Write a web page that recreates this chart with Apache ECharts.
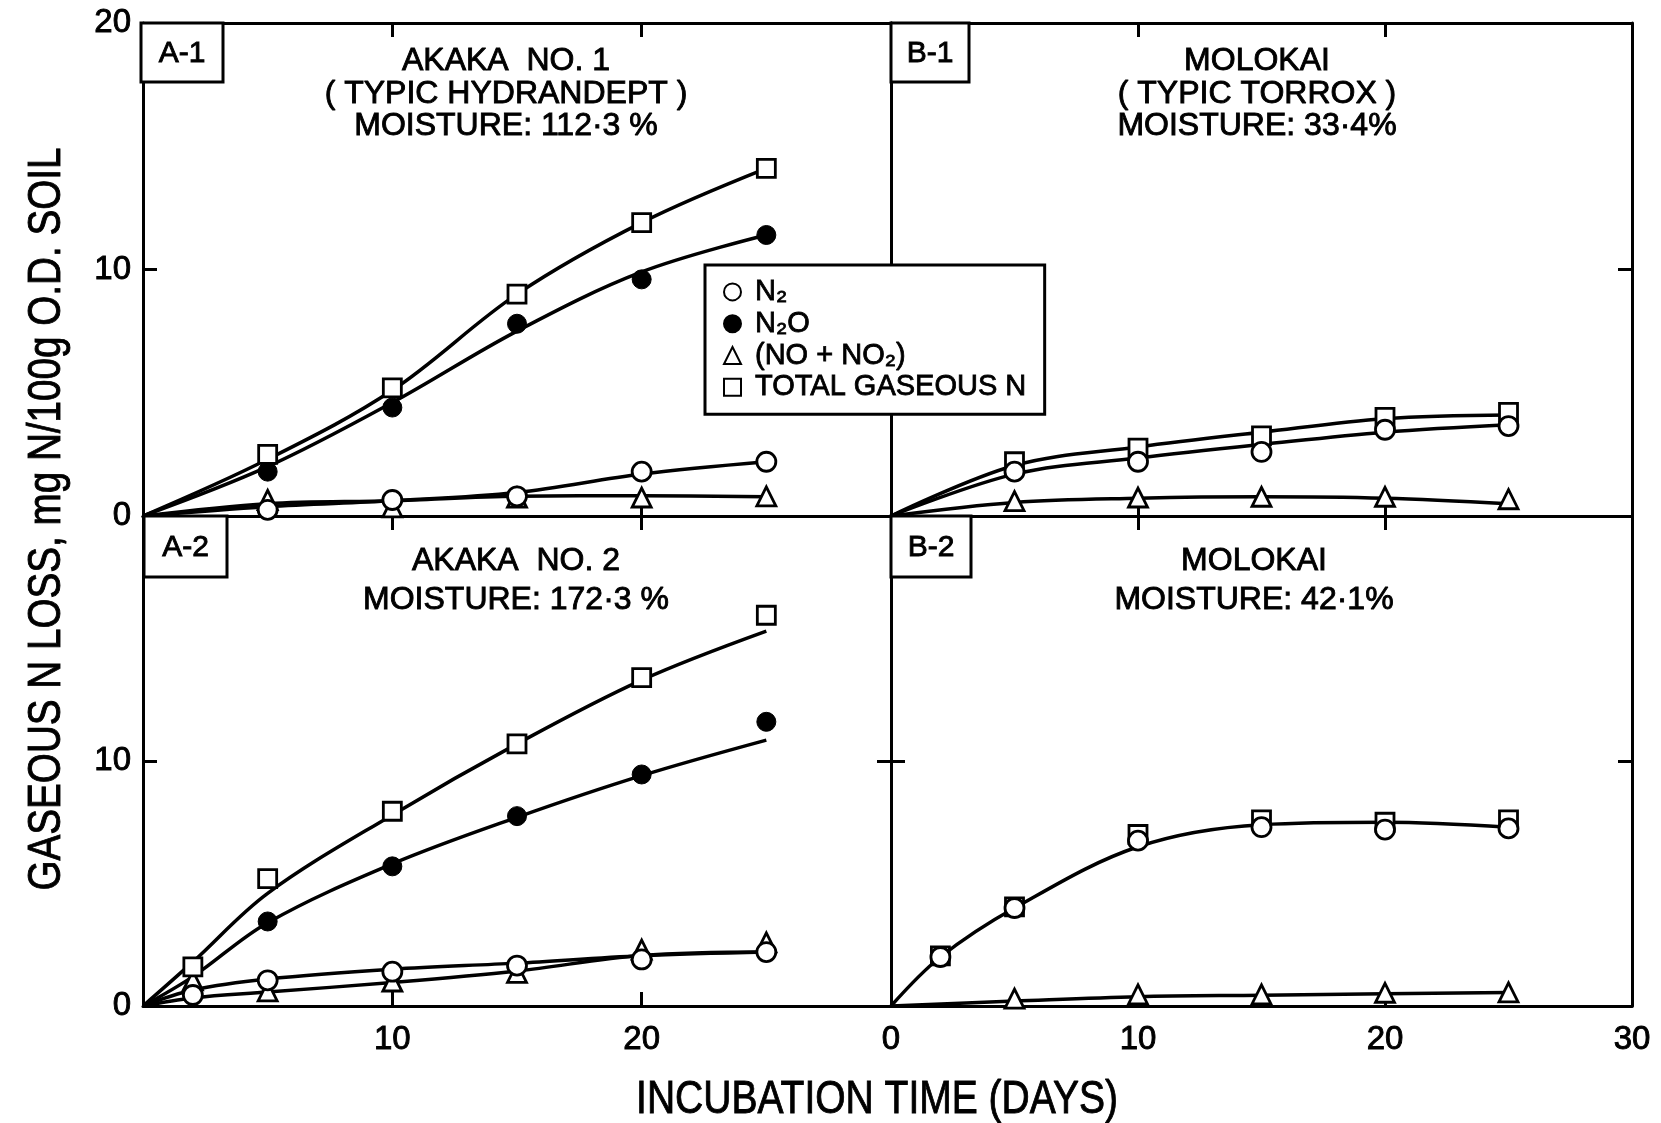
<!DOCTYPE html>
<html>
<head>
<meta charset="utf-8">
<script src="https://cdn.jsdelivr.net/npm/echarts@6/dist/echarts.min.js"></script>
<style>
  html, body { margin: 0; padding: 0; background: #fff; }
  #chart { width: 1661px; height: 1123px; }
</style>
</head>
<body>
<div id="chart"></div>
<script>
// ---------------------------------------------------------------
// Gaseous N loss during incubation, four soils (A-1, B-1, A-2, B-2)
// ---------------------------------------------------------------

// Legend / series names
const seriesNames = ['N₂', 'N₂O', '(NO + NO₂)', 'TOTAL GASEOUS N'];

// Tick labels
const xLabelsLeft = ['', '10', '20', ''];
const xLabelsRight = ['0', '10', '20', '30'];
const yLabelsTop = ['0', '10', '20'];
const yLabelsBottom = ['0', '10', ''];

// A-1  Akaka No. 1 — measured points
const a1Days = [5, 10, 15, 20, 25];
const a1N2 = [0.25, 0.65, 0.8, 1.8, 2.2];
const a1N2O = [1.8, 4.4, 7.8, 9.6, 11.4];
const a1NOx = [0.65, 0.35, 0.75, 0.75, 0.8];
const a1Total = [2.5, 5.2, 9.0, 11.9, 14.1];
// A-1 fitted curves
const a1CurveDays = [0, 5, 10, 15, 20, 25];
const a1N2Curve = [0, 0.38, 0.62, 0.95, 1.7, 2.2];
const a1N2OCurve = [0, 2.0, 4.6, 7.5, 9.9, 11.4];
const a1NOxCurve = [0, 0.5, 0.62, 0.8, 0.82, 0.78];
const a1TotalCurve = [0, 2.3, 5.1, 9.0, 11.9, 14.1];

// B-1  Molokai (33.4 %) — measured points
const b1Days = [5, 10, 15, 20, 25];
const b1N2 = [1.8, 2.2, 2.6, 3.5, 3.65];
const b1NOx = [0.6, 0.75, 0.78, 0.78, 0.68];
const b1Total = [2.2, 2.75, 3.25, 4.0, 4.2];
// B-1 fitted curves
const b1CurveDays = [0, 5, 10, 15, 20, 25];
const b1N2Curve = [0, 1.7, 2.35, 2.9, 3.4, 3.7];
const b1NOxCurve = [0, 0.55, 0.72, 0.78, 0.72, 0.5];
const b1TotalCurve = [0, 2.05, 2.8, 3.4, 3.95, 4.1];

// A-2  Akaka No. 2 — measured points
const a2Days = [2, 5, 10, 15, 20, 25];
const a2N2ODays = [5, 10, 15, 20, 25];
const a2N2 = [0.45, 1.05, 1.4, 1.65, 1.9, 2.2];
const a2N2O = [3.45, 5.7, 7.75, 9.45, 11.6];
const a2NOx = [1.05, 0.6, 1.0, 1.35, 2.3, 2.6];
const a2Total = [1.6, 5.2, 7.95, 10.7, 13.4, 15.95];
// A-2 fitted curves
const a2CurveDays = [0, 2, 5, 10, 15, 20, 25];
const a2N2Curve = [0, 0.65, 1.1, 1.5, 1.75, 2.05, 2.2];
const a2N2OCurve = [0, 1.2, 3.4, 5.8, 7.7, 9.4, 10.85];
const a2NOxCurve = [0, 0.33, 0.57, 0.96, 1.43, 2.06, 2.2];
const a2TotalCurve = [0, 1.8, 4.6, 7.8, 10.7, 13.3, 15.3];

// B-2  Molokai (42.1 %) — measured points
const b2Days = [2, 5, 10, 15, 20, 25];
const b2NOxDays = [5, 10, 15, 20, 25];
const b2N2 = [2.0, 4.0, 6.75, 7.3, 7.2, 7.25];
const b2NOx = [0.3, 0.47, 0.47, 0.54, 0.56];
const b2Total = [2.05, 4.05, 7.0, 7.6, 7.5, 7.6];
// B-2 fitted curves (N2 and total share one curve)
const b2CurveDays = [0, 2, 5, 10, 15, 20, 25];
const b2TotalCurve = [0, 2.0, 4.0, 6.5, 7.4, 7.5, 7.3];
const b2NOxCurveDays = [0, 5, 10, 15, 20, 25];
const b2NOxCurve = [0, 0.2, 0.38, 0.44, 0.5, 0.55];

// ---------------------------------------------------------------
const FONT = '"Liberation Sans", Arial, sans-serif';
const INK = '#000';
const pairs = (xs, ys) => xs.map((x, i) => [x, ys[i]]);

const grids = [
  { left: 143, top: 23, width: 748, height: 493 },   // A-1
  { left: 891, top: 23, width: 741, height: 493 },   // B-1
  { left: 143, top: 516, width: 748, height: 490 },  // A-2
  { left: 891, top: 516, width: 741, height: 490 }   // B-2
];

const tickStyle = { inside: true, length: 14, lineStyle: { color: INK, width: 3 } };
const lineStyleAxis = { show: true, onZero: false, lineStyle: { color: INK, width: 3 } };
const labelBase = { color: INK, fontFamily: FONT, fontSize: 33, textBorderColor: INK, textBorderWidth: 0.9 };

const xLabelSets = [null, null, xLabelsLeft, xLabelsRight];
const yLabelSets = [yLabelsTop, null, yLabelsBottom, null];

const xAxes = [];
const yAxes = [];
grids.forEach((g, gi) => {
  const xl = xLabelSets[gi];
  const yl = yLabelSets[gi];
  xAxes.push({
    gridIndex: gi, type: 'value', min: 0, max: 30, interval: 10, position: 'bottom',
    axisLine: lineStyleAxis, axisTick: tickStyle, splitLine: { show: false },
    axisLabel: xl ? Object.assign({ show: true, margin: 17, formatter: v => xl[Math.round(v / 10)] }, labelBase) : { show: false }
  });
  xAxes.push({
    gridIndex: gi, type: 'value', min: 0, max: 30, interval: 10, position: 'top',
    axisLine: lineStyleAxis, axisTick: tickStyle, splitLine: { show: false }, axisLabel: { show: false }
  });
  yAxes.push({
    gridIndex: gi, type: 'value', min: 0, max: 20, interval: 10, position: 'left',
    axisLine: lineStyleAxis, axisTick: tickStyle, splitLine: { show: false },
    axisLabel: yl ? Object.assign({ show: true, margin: 12, formatter: v => yl[Math.round(v / 10)] }, labelBase) : { show: false }
  });
  yAxes.push({
    gridIndex: gi, type: 'value', min: 0, max: 20, interval: 10, position: 'right',
    axisLine: lineStyleAxis, axisTick: tickStyle, splitLine: { show: false }, axisLabel: { show: false }
  });
});

// marker looks per series name
const markerStyle = {
  'N₂': { symbol: 'circle', itemStyle: { color: '#fff', borderColor: INK, borderWidth: 2.8, opacity: 1 } },
  'N₂O': { symbol: 'circle', itemStyle: { color: INK, borderColor: INK, borderWidth: 1, opacity: 1 } },
  '(NO + NO₂)': { symbol: 'triangle', itemStyle: { color: '#fff', borderColor: INK, borderWidth: 2.8, opacity: 1 } },
  'TOTAL GASEOUS N': { symbol: 'rect', itemStyle: { color: '#fff', borderColor: INK, borderWidth: 2.8, opacity: 1 } }
};

function curve(gi, xs, ys) {
  return {
    type: 'line', xAxisIndex: gi * 2, yAxisIndex: gi * 2, data: pairs(xs, ys),
    smooth: 0.35, showSymbol: false, silent: true, z: 2,
    lineStyle: { color: INK, width: 3.5 }
  };
}
function marks(gi, name, xs, ys) {
  const m = markerStyle[name];
  return {
    type: 'scatter', name: name, xAxisIndex: gi * 2, yAxisIndex: gi * 2, data: pairs(xs, ys),
    symbol: m.symbol, symbolSize: name === 'TOTAL GASEOUS N' ? 18 : 19, itemStyle: m.itemStyle, z: 3, silent: true
  };
}

const series = [
  // A-1
  curve(0, a1CurveDays, a1N2Curve), curve(0, a1CurveDays, a1NOxCurve),
  curve(0, a1CurveDays, a1N2OCurve), curve(0, a1CurveDays, a1TotalCurve),
  marks(0, seriesNames[2], a1Days, a1NOx), marks(0, seriesNames[0], a1Days, a1N2),
  marks(0, seriesNames[1], a1Days, a1N2O), marks(0, seriesNames[3], a1Days, a1Total),
  // B-1
  curve(1, b1CurveDays, b1N2Curve), curve(1, b1CurveDays, b1NOxCurve), curve(1, b1CurveDays, b1TotalCurve),
  marks(1, seriesNames[2], b1Days, b1NOx), marks(1, seriesNames[3], b1Days, b1Total),
  marks(1, seriesNames[0], b1Days, b1N2),
  // A-2
  curve(2, a2CurveDays, a2N2Curve), curve(2, a2CurveDays, a2NOxCurve),
  curve(2, a2CurveDays, a2N2OCurve), curve(2, a2CurveDays, a2TotalCurve),
  marks(2, seriesNames[2], a2Days, a2NOx), marks(2, seriesNames[0], a2Days, a2N2),
  marks(2, seriesNames[1], a2N2ODays, a2N2O), marks(2, seriesNames[3], a2Days, a2Total),
  // B-2
  curve(3, b2CurveDays, b2TotalCurve), curve(3, b2NOxCurveDays, b2NOxCurve),
  marks(3, seriesNames[2], b2NOxDays, b2NOx), marks(3, seriesNames[3], b2Days, b2Total),
  marks(3, seriesNames[0], b2Days, b2N2)
];

// shared text look: thin outline to give the lettering some weight
const inkText = { fill: INK, stroke: INK, lineWidth: 0.9 };

// panel tags and headings
function tagBox(x, y, w, h, label) {
  return [
    { type: 'rect', shape: { x: x, y: y, width: w, height: h }, z: 10,
      style: { fill: '#fff', stroke: INK, lineWidth: 3 } },
    { type: 'text', x: x + w / 2, y: y + h / 2 + 1, z: 11,
      style: Object.assign({ text: label, font: '30px ' + FONT, align: 'center', verticalAlign: 'middle',
               textAlign: 'center', textVerticalAlign: 'middle' }, inkText) }
  ];
}
function heading(x, y, text, lh) {
  return { type: 'text', x: x, y: y, z: 10,
    style: Object.assign({ text: text, font: '32px ' + FONT, lineHeight: lh,
             align: 'center', verticalAlign: 'top', textAlign: 'center', textVerticalAlign: 'top' }, inkText) };
}

const graphics = [].concat(
  tagBox(141, 23, 82, 59, 'A-1'),
  tagBox(891, 23, 78, 59, 'B-1'),
  tagBox(144, 516, 83, 61, 'A-2'),
  tagBox(891, 516, 80, 61, 'B-2'),
  [
    heading(506, 45, 'AKAKA  NO. 1\n( TYPIC HYDRANDEPT )\nMOISTURE: 112·3 %', 32.5),
    heading(1257, 45, 'MOLOKAI\n( TYPIC TORROX )\nMOISTURE: 33·4%', 32.5),
    heading(516, 542, 'AKAKA  NO. 2\nMOISTURE: 172·3 %', 39),
    heading(1254, 542, 'MOLOKAI\nMOISTURE: 42·1%', 39),
    { type: 'text', x: 47, y: 519, rotation: Math.PI / 2, scaleX: 0.84, z: 10,
      style: Object.assign({ text: 'GASEOUS N LOSS, mg N/100g O.D. SOIL', font: '46px ' + FONT,
               align: 'center', verticalAlign: 'middle', textAlign: 'center', textVerticalAlign: 'middle' }, inkText) },
    { type: 'text', x: 877, y: 1100, scaleX: 0.83, z: 10,
      style: Object.assign({ text: 'INCUBATION TIME (DAYS)', font: '47px ' + FONT,
               align: 'center', verticalAlign: 'middle', textAlign: 'center', textVerticalAlign: 'middle' }, inkText) }
  ]
);

const chart = echarts.init(document.getElementById('chart'), null, { renderer: 'canvas' });
chart.setOption({
  backgroundColor: '#fff',
  animation: false,
  grid: grids.map(g => Object.assign({ show: false, containLabel: false }, g)),
  xAxis: xAxes,
  yAxis: yAxes,
  legend: {
    data: seriesNames,
    orient: 'vertical',
    left: 705, top: 265,
    padding: [12, 18, 12, 18],
    itemGap: 2,
    itemWidth: 17, itemHeight: 17,
    backgroundColor: '#fff',
    borderColor: INK, borderWidth: 3,
    selectedMode: false,
    itemStyle: { opacity: 1 },
    textStyle: { color: INK, fontFamily: FONT, fontSize: 29, padding: [0, 0, 0, 9],
                 textBorderColor: INK, textBorderWidth: 0.8 },
    z: 20
  },
  series: series,
  graphic: graphics
});
</script>
</body>
</html>
